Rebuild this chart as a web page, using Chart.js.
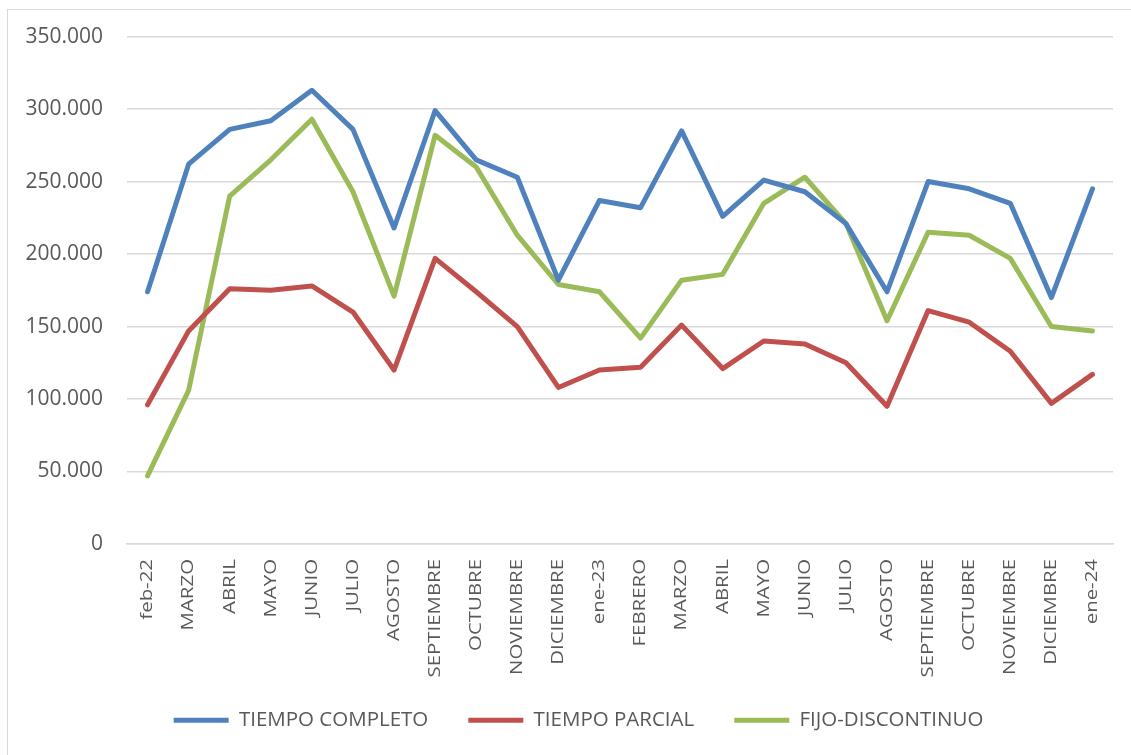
<!DOCTYPE html>
<html>
<head>
<meta charset="utf-8">
<script src="https://cdn.jsdelivr.net/npm/chart.js@4.4.1/dist/chart.umd.min.js"></script>
<style>
  html, body { margin: 0; padding: 0; background: #ffffff; }
  #wrap { position: relative; width: 1131px; height: 755px; }
  canvas { display: block; }
</style>
</head>
<body>
<div id="wrap"><canvas id="c" width="1131" height="755"></canvas></div>
<script>
const categories = ['feb-22','MARZO','ABRIL','MAYO','JUNIO','JULIO','AGOSTO','SEPTIEMBRE','OCTUBRE','NOVIEMBRE','DICIEMBRE','ene-23','FEBRERO','MARZO','ABRIL','MAYO','JUNIO','JULIO','AGOSTO','SEPTIEMBRE','OCTUBRE','NOVIEMBRE','DICIEMBRE','ene-24'];
const tiempoCompleto = [174000, 262000, 286000, 292000, 313000, 286000, 218000, 299000, 265000, 253000, 182000, 237000, 232000, 285000, 226000, 251000, 243000, 221000, 174000, 250000, 245000, 235000, 170000, 245000];
const tiempoParcial = [96000, 147000, 176000, 175000, 178000, 160000, 120000, 197000, 174000, 150000, 108000, 120000, 122000, 151000, 121000, 140000, 138000, 125000, 95000, 161000, 153000, 133000, 97000, 117000];
const fijoDiscontinuo = [47000, 106000, 240000, 265000, 293000, 243000, 171000, 282000, 260000, 213000, 179000, 174000, 142000, 182000, 186000, 235000, 253000, 221000, 154000, 215000, 213000, 197000, 150000, 147000];
const seriesNames = ['TIEMPO COMPLETO', 'TIEMPO PARCIAL', 'FIJO-DISCONTINUO'];
const yTicks = [0, 50000, 100000, 150000, 200000, 250000, 300000, 350000];

function fmt(v) {
  return String(v).replace(/\B(?=(\d{3})+(?!\d))/g, '.');
}

const STRETCH = 1.2;

const customPlugin = {
  id: 'customLook',
  afterLayout(chart) {
    const lg = chart.legend;
    if (lg) {
      lg.left += 18;
      lg.right += 18;
      lg.top -= 14;
      lg.bottom -= 14;
    }
  },
  beforeDraw(chart) {
    const ctx = chart.ctx;
    ctx.save();
    ctx.strokeStyle = '#d9d9d9';
    ctx.lineWidth = 1;
    ctx.strokeRect(7.5, 9.5, 1140, 760);
    ctx.restore();
    const s = chart.scales.x;
    if (s && !s._stretchPatched) {
      const orig = s.drawLabels.bind(s);
      s.drawLabels = function (area) {
        const c = this.ctx;
        const protoFill = CanvasRenderingContext2D.prototype.fillText;
        c.fillText = function (t, x, y, mw) {
          this.save();
          this.scale(STRETCH, 1);
          if (mw === undefined) protoFill.call(this, t, x / STRETCH, y);
          else protoFill.call(this, t, x / STRETCH, y, mw / STRETCH);
          this.restore();
        };
        try { orig(area); } finally { delete c.fillText; }
      };
      s._stretchPatched = true;
    }
  }
};

const common = { fill: false, tension: 0, pointRadius: 0, pointHoverRadius: 0, borderWidth: 5, borderCapStyle: 'round', borderJoinStyle: 'round' };

new Chart(document.getElementById('c'), {
  type: 'line',
  data: {
    labels: categories,
    datasets: [
      Object.assign({ label: seriesNames[0], data: tiempoCompleto, borderColor: '#4F81BD', backgroundColor: '#4F81BD' }, common),
      Object.assign({ label: seriesNames[1], data: tiempoParcial, borderColor: '#C0504D', backgroundColor: '#C0504D' }, common),
      Object.assign({ label: seriesNames[2], data: fijoDiscontinuo, borderColor: '#9BBB59', backgroundColor: '#9BBB59' }, common)
    ]
  },
  options: {
    responsive: false,
    animation: false,
    devicePixelRatio: 1,
    layout: { padding: { left: 8, right: 18, top: 33, bottom: 0.5 } },
    plugins: {
      tooltip: { enabled: false },
      legend: {
        position: 'bottom',
        labels: {
          usePointStyle: true,
          pointStyle: 'line',
          pointStyleWidth: 55,
          boxHeight: 20.5,
          padding: 40,
          color: '#595959',
          font: { family: 'Open Sans', size: 20.5 }
        }
      }
    },
    scales: {
      x: {
        offset: true,
        grid: { display: false, drawTicks: false },
        border: { display: true, color: '#d9d9d9', width: 1.5 },
        ticks: {
          autoSkip: false,
          minRotation: 90,
          maxRotation: 90,
          padding: 15,
          color: '#595959',
          font: { family: 'Open Sans', size: 17 }
        },
        afterFit(axis) { axis.height = 140; }
      },
      y: {
        min: 0,
        max: 350000,
        afterBuildTicks(axis) { axis.ticks = yTicks.map(v => ({ value: v })); },
        grid: { color: '#d9d9d9', lineWidth: 1.5, drawTicks: false },
        border: { display: false },
        ticks: {
          padding: 24,
          color: '#595959',
          font: { family: 'Open Sans', size: 21 },
          callback: (v) => fmt(v)
        },
        afterFit(axis) { axis.width = 119; }
      }
    }
  },
  plugins: [customPlugin]
});
</script>
</body>
</html>
